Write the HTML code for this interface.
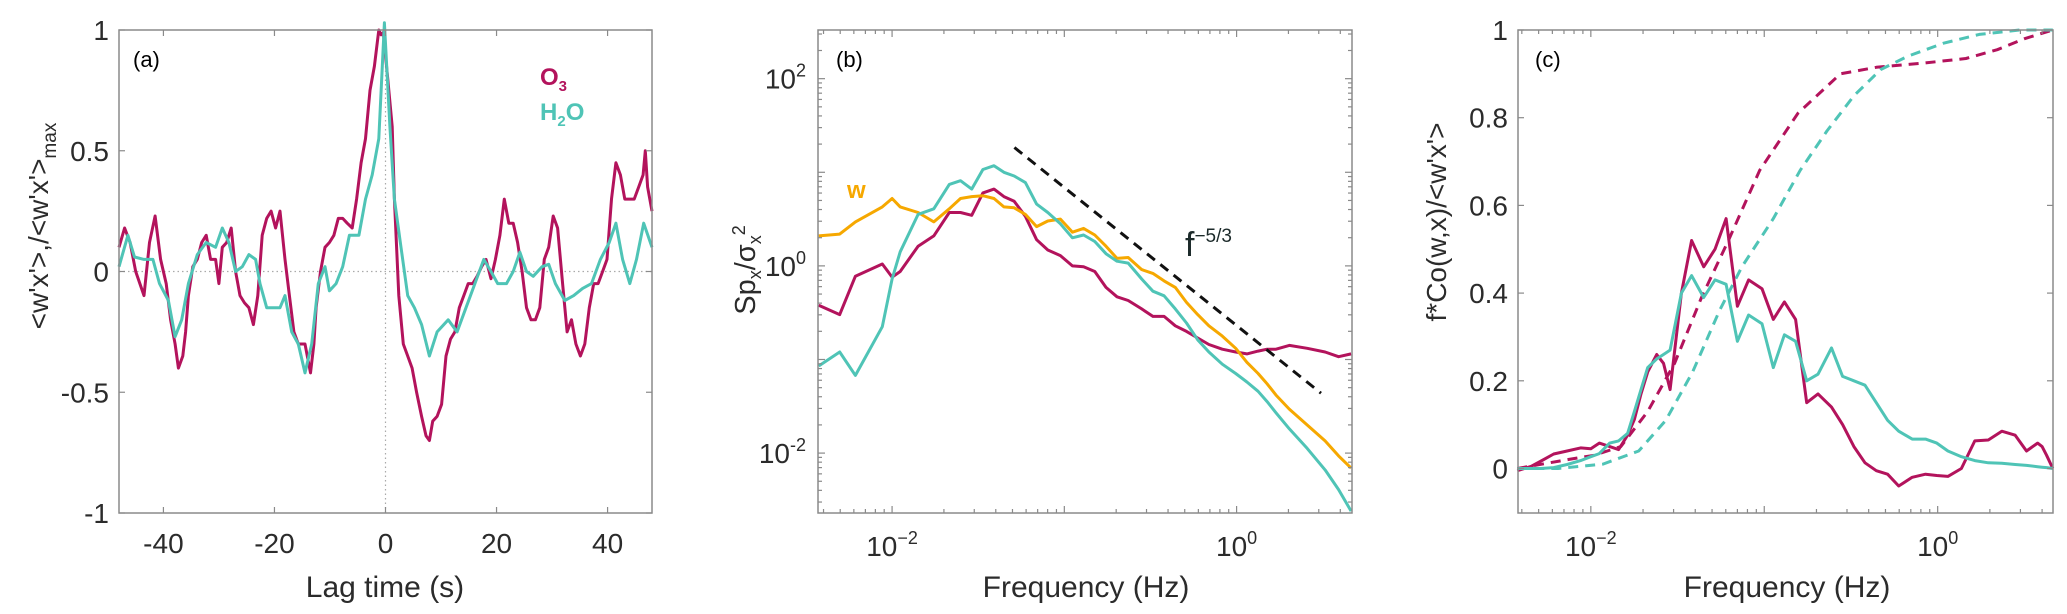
<!DOCTYPE html>
<html><head><meta charset="utf-8"><style>
html,body{margin:0;padding:0;background:#fff;}
svg{display:block;font-family:"Liberation Sans",sans-serif;}
</style></head><body>
<svg id="fig" width="2067" height="614" viewBox="0 0 2067 614" xmlns="http://www.w3.org/2000/svg"></svg>
<script>
// ---- Panel (a) data ----
const lagO3=[-48,-47,-46,-45,-43.5,-42.5,-41.5,-40.5,-39.5,-38.7,-37.9,-37.3,-36.5,-36,-35.5,-34.7,-33.9,-33.1,-32.3,-31.5,-30.6,-30,-29.4,-28.6,-27.8,-27,-26.2,-25.4,-24.6,-23.8,-23,-22.2,-21.4,-20.6,-19.8,-19,-18.1,-17.3,-16.5,-15.7,-14.5,-13.5,-12.9,-12.5,-11.7,-10.9,-10.1,-9.3,-8.5,-7.7,-6.9,-6,-5.2,-4.4,-3.6,-2.8,-2,-1.2,-0.8,-0.4,0.4,1.2,1.6,2.4,3.2,4,4.8,5.6,6.5,7.3,7.9,8.5,9.3,10.1,10.9,11.7,12.5,13.3,14.1,14.9,15.7,16.5,17.3,18.1,19,19.8,20.6,21.4,22.2,23,23.8,24.6,25.4,26.2,27,27.8,28.6,29.4,30.2,31,31.9,32.7,33.5,34.3,35.1,35.9,36.7,37.5,38.3,39.1,39.9,40.7,41.5,42.3,43.1,44,44.8,45.6,46.4,46.8,47.2,48];
const o3Lag=[0.1,0.18,0.12,0,-0.1,0.12,0.23,0.05,-0.05,-0.2,-0.3,-0.4,-0.35,-0.25,-0.1,0.02,0.05,0.12,0.15,0.05,0.05,-0.05,0.1,0.12,0.18,0,-0.1,-0.13,-0.15,-0.22,-0.1,0.15,0.22,0.25,0.18,0.25,0.05,-0.1,-0.25,-0.3,-0.3,-0.42,-0.3,-0.15,0,0.1,0.12,0.15,0.22,0.22,0.2,0.18,0.3,0.45,0.55,0.75,0.85,1.0,0.98,0.99,0.8,0.6,0.3,-0.1,-0.3,-0.35,-0.4,-0.5,-0.6,-0.68,-0.7,-0.62,-0.6,-0.55,-0.35,-0.28,-0.25,-0.15,-0.1,-0.05,-0.05,-0.02,0.02,0.05,-0.03,0.05,0.15,0.3,0.2,0.2,0.12,0,-0.15,-0.2,-0.2,-0.15,0.05,0.1,0.23,0.18,-0.05,-0.25,-0.2,-0.3,-0.35,-0.3,-0.15,-0.05,-0.05,0,0.05,0.3,0.45,0.4,0.3,0.3,0.3,0.35,0.4,0.5,0.35,0.25];
const lagH2O=[-48,-46.4,-45.2,-43.5,-41.9,-40.7,-39.1,-37.9,-36.7,-35.5,-33.9,-32.3,-30.6,-29.4,-28.2,-27,-25.8,-24.6,-23.4,-22.6,-21.4,-20.2,-19,-18.1,-16.9,-15.7,-14.5,-13.3,-12.1,-10.9,-10.1,-8.9,-7.7,-6.5,-4.8,-3.6,-2.4,-1.2,-0.2,0.8,1.6,2.8,4,5.2,6.5,7.9,9.3,11.3,12.9,14.5,16.1,17.7,19,20.2,21.8,23,24.2,25.4,26.6,28.2,29.4,30.6,32.3,33.9,35.5,37.1,38.7,40.3,41.5,42.7,44,45.2,46.5,48];
const h2oLag=[0.02,0.15,0.06,0.05,0.05,-0.05,-0.12,-0.27,-0.2,-0.05,0.07,0.12,0.1,0.18,0.12,0,0.02,0.07,0.05,-0.05,-0.15,-0.15,-0.15,-0.1,-0.25,-0.3,-0.42,-0.3,-0.05,0.02,-0.08,-0.05,0.02,0.15,0.15,0.3,0.4,0.55,1.03,0.6,0.3,0.1,-0.1,-0.15,-0.22,-0.35,-0.25,-0.2,-0.25,-0.15,-0.05,0.05,0,-0.05,-0.05,0,0.08,0,-0.02,0.02,0.03,-0.05,-0.12,-0.1,-0.07,-0.05,0.05,0.12,0.2,0.05,-0.05,0.05,0.2,0.1];
const aXTicks=[-40,-20,0,20,40];
const aYTicks=[-1,-0.5,0,0.5,1];
const aYTickLabels=["-1","-0.5","0","0.5","1"];
// ---- Panel (b) data (log10 f, log10 S) ----
const bLogF=[-2.426,-2.304,-2.213,-2.057,-2,-1.953,-1.849,-1.758,-1.668,-1.603,-1.538,-1.473,-1.408,-1.351,-1.291,-1.226,-1.161,-1.096,-1.023,-0.953,-0.888,-0.823,-0.758,-0.694,-0.629,-0.551,-0.486,-0.421,-0.356,-0.291,-0.226,-0.161,-0.083,-0.005,0.06,0.125,0.177,0.229,0.306,0.41,0.514,0.592,0.665];
const bW=[0.32,0.34,0.47,0.63,0.72,0.63,0.57,0.47,0.61,0.72,0.74,0.75,0.72,0.63,0.62,0.55,0.42,0.48,0.5,0.36,0.4,0.33,0.21,0.08,0.09,-0.04,-0.08,-0.16,-0.23,-0.39,-0.52,-0.64,-0.75,-0.88,-1.03,-1.15,-1.26,-1.38,-1.53,-1.7,-1.87,-2.03,-2.16];
const bO3=[-0.42,-0.52,-0.11,0.02,-0.12,-0.06,0.21,0.32,0.57,0.57,0.54,0.78,0.82,0.74,0.69,0.53,0.28,0.17,0.11,0,-0.01,-0.06,-0.23,-0.33,-0.37,-0.46,-0.54,-0.54,-0.64,-0.7,-0.77,-0.84,-0.89,-0.92,-0.94,-0.91,-0.89,-0.89,-0.85,-0.88,-0.92,-0.97,-0.94];
const bH2O=[-1.07,-0.92,-1.17,-0.65,-0.14,0.15,0.55,0.61,0.87,0.91,0.82,1.03,1.07,1.0,0.96,0.89,0.66,0.57,0.45,0.3,0.33,0.26,0.13,0.05,0.03,-0.14,-0.27,-0.32,-0.46,-0.61,-0.79,-0.92,-1.05,-1.15,-1.24,-1.34,-1.45,-1.57,-1.74,-1.95,-2.18,-2.39,-2.62];
const slopeLogF=[-1.29,0.49];
const slopeLogS=[1.265,-1.36];
const bXTicks=[-2,0];
const bYTicks=[-2,0,2];
// ---- Panel (c) data ----
const cLogF=[-2.424,-2.344,-2.292,-2.214,-2.137,-2.059,-2,-1.951,-1.891,-1.84,-1.788,-1.749,-1.711,-1.672,-1.62,-1.581,-1.543,-1.478,-1.419,-1.349,-1.284,-1.22,-1.155,-1.09,-1.013,-0.948,-0.884,-0.819,-0.755,-0.69,-0.612,-0.548,-0.483,-0.419,-0.354,-0.289,-0.225,-0.147,-0.07,-0.005,0.059,0.137,0.214,0.292,0.37,0.447,0.512,0.576,0.602,0.628,0.664];
const cO3=[-0.005,0.005,0.016,0.033,0.04,0.047,0.045,0.058,0.05,0.043,0.076,0.112,0.17,0.22,0.26,0.24,0.18,0.4,0.52,0.46,0.5,0.57,0.37,0.43,0.41,0.34,0.38,0.34,0.15,0.17,0.14,0.1,0.05,0.013,-0.005,-0.013,-0.04,-0.02,-0.013,-0.016,-0.018,0,0.063,0.065,0.085,0.076,0.04,0.058,0.05,0.03,0];
const cH2O=[0,0,0,0.002,0.009,0.018,0.027,0.034,0.058,0.063,0.08,0.13,0.18,0.23,0.25,0.26,0.27,0.4,0.44,0.39,0.43,0.42,0.29,0.35,0.33,0.23,0.305,0.29,0.2,0.215,0.275,0.21,0.2,0.19,0.15,0.11,0.085,0.067,0.067,0.058,0.04,0.027,0.018,0.013,0.012,0.009,0.007,0.004,0.003,0.002,0];
const cumO3LogF=[-2.424,-2.137,-1.982,-1.827,-1.672,-1.517,-1.362,-1.207,-1.026,-0.806,-0.561,-0.354,-0.07,0.163,0.344,0.499,0.664];
const cumO3=[0,0.02,0.03,0.05,0.13,0.24,0.39,0.52,0.68,0.81,0.9,0.915,0.925,0.935,0.955,0.98,1.0];
const cumH2OLogF=[-2.424,-2.189,-1.93,-1.724,-1.568,-1.413,-1.258,-1.129,-0.948,-0.793,-0.638,-0.483,-0.328,-0.173,0.034,0.24,0.473,0.664];
const cumH2O=[0,0,0.01,0.04,0.11,0.22,0.36,0.46,0.57,0.68,0.77,0.85,0.91,0.94,0.97,0.99,1.0,1.0];
const cYTicks=[0,0.2,0.4,0.6,0.8,1];
const cYTickLabels=["0","0.2","0.4","0.6","0.8","1"];

const NS="http://www.w3.org/2000/svg";
const svg=document.getElementById('fig');
const MAG="#b3135c",TEAL="#4fc4b6",ORG="#f6a800",TXT="#2b2b2b",AX="#8a8a8a";
const TF=28;
function el(tag,attrs,parent){const e=document.createElementNS(NS,tag);for(const k in attrs)e.setAttribute(k,attrs[k]);(parent||svg).appendChild(e);return e;}
function lin(d0,d1,p0,p1){return v=>p0+(v-d0)/(d1-d0)*(p1-p0);}
function polyline(xs,ys,sx,sy,color,dash,g,name){
  const pts=xs.map((x,i)=>sx(x).toFixed(1)+","+sy(ys[i]).toFixed(1)).join(" ");
  const p=el('polyline',{points:pts,fill:'none',stroke:color,'stroke-width':3,'stroke-linejoin':'round'},g);
  if(dash)p.setAttribute('stroke-dasharray',dash);
  
  
  return p;
}
function txt(x,y,s,size,anchor,g,color,name){
  const t=el('text',{x:x,y:y,'font-size':size,'text-anchor':anchor||'middle',fill:color||TXT},g);
  t.textContent=s;
  
  
  return t;
}
function frame(L,T,R,B,g){
  const r=el('rect',{x:L,y:T,width:R-L,height:B-T,fill:'none',stroke:AX,'stroke-width':1.5},g);
  
  
}
function tickX(x,T,B,len,g){el('line',{x1:x,x2:x,y1:B,y2:B-len,stroke:AX,'stroke-width':1.2},g);el('line',{x1:x,x2:x,y1:T,y2:T+len,stroke:AX,'stroke-width':1.2},g);}
function tickY(y,L,R,len,g){el('line',{x1:L,x2:L+len,y1:y,y2:y,stroke:AX,'stroke-width':1.2},g);el('line',{x1:R,x2:R-len,y1:y,y2:y,stroke:AX,'stroke-width':1.2},g);}

// ===== Panel (a) =====
(function(){
  const L=119,R=652,T=30,B=513;
  const g=el('g',{});
  
  
  const sx=lin(-48,48,L,R), sy=lin(-1,1,B,T);
  el('line',{x1:L,x2:R,y1:sy(0),y2:sy(0),stroke:'#aaa','stroke-width':1.2,'stroke-dasharray':'1.5 3'},g);
  el('line',{x1:sx(0),x2:sx(0),y1:T,y2:B,stroke:'#aaa','stroke-width':1.2,'stroke-dasharray':'1.5 3'},g);
  polyline(lagO3,o3Lag,sx,sy,MAG,null,g,'o3-lag-line');
  polyline(lagH2O,h2oLag,sx,sy,TEAL,null,g,'h2o-lag-line');
  frame(L,T,R,B,g);
  aXTicks.forEach(v=>{tickX(sx(v),T,B,6,g);txt(sx(v),553,String(v),TF,'middle',g,TXT,'x-tick-label');});
  aYTicks.forEach((v,i)=>{tickY(sy(v),L,R,6,g);txt(L-10,sy(v)+10,aYTickLabels[i],TF,'end',g,TXT,'y-tick-label');});
  txt(385,597,'Lag time (s)',30,'middle',g,TXT,'x-axis-title');
  const yt=el('text',{x:0,y:0,'font-size':28,'text-anchor':'middle',fill:TXT,transform:'translate(48,226) rotate(-90)'},g);
  
  
  yt.innerHTML="&lt;w'x'&gt;,/&lt;w'x'&gt;<tspan font-size='19' dy='8'>max</tspan>";
  txt(133,67,'(a)',22,'start',g,'#000','panel-label-a');
  const l1=el('text',{x:540,y:85,'font-size':24,'font-weight':'bold',fill:MAG},g);
  l1.innerHTML="O<tspan font-size='15' dy='6'>3</tspan>";
  
  
  const l2=el('text',{x:540,y:120,'font-size':24,'font-weight':'bold',fill:TEAL},g);
  l2.innerHTML="H<tspan font-size='15' dy='6'>2</tspan><tspan dy='-6'>O</tspan>";
  
  
})();

function logTicks(sx,sy,L,R,T,B,xmin,xmax,ymin,ymax,g){
  for(let d=Math.floor(xmin);d<=Math.ceil(xmax);d++)for(let k=1;k<10;k++){const v=d+Math.log10(k);if(v<xmin||v>xmax)continue;tickX(sx(v),T,B,k===1?7:4,g);}
  if(sy)for(let d=Math.floor(ymin);d<=Math.ceil(ymax);d++)for(let k=1;k<10;k++){const v=d+Math.log10(k);if(v<ymin||v>ymax)continue;tickY(sy(v),L,R,k===1?7:4,g);}
}
function powLabel(x,y,exp,g,name){
  const t=el('text',{x:x,y:y,'font-size':TF,'text-anchor':'middle',fill:TXT},g);
  t.innerHTML="10<tspan font-size='18' dy='-12'>"+(exp<0?"\u2212"+(-exp):exp)+"</tspan>";
  
  
}

// ===== Panel (b) =====
(function(){
  const L=818,R=1352,T=30,B=513;
  const g=el('g',{});
  
  
  const xmin=-2.43,xmax=0.67,ymin=-2.64,ymax=2.52;
  const sx=lin(xmin,xmax,L,R), sy=lin(ymin,ymax,B,T);
  polyline(bLogF,bO3,sx,sy,MAG,null,g,'o3-spectrum-line');
  polyline(bLogF,bW,sx,sy,ORG,null,g,'w-spectrum-line');
  polyline(bLogF,bH2O,sx,sy,TEAL,null,g,'h2o-spectrum-line');
  polyline(slopeLogF,slopeLogS,sx,sy,'#111','10 7',g,'f-minus-5-3-reference-line');
  frame(L,T,R,B,g);
  logTicks(sx,sy,L,R,T,B,xmin,xmax,ymin,ymax,g);
  bXTicks.forEach(v=>powLabel(sx(v),556,v,g,'x-tick-label'));
  bYTicks.forEach(v=>{const t=el('text',{x:L-12,y:sy(v)+10,'font-size':TF,'text-anchor':'end',fill:TXT},g);t.innerHTML="10<tspan font-size='18' dy='-12'>"+(v<0?"-"+(-v):v)+"</tspan>";});
  txt(1086,597,'Frequency (Hz)',30,'middle',g,TXT,'x-axis-title');
  const yt=el('text',{x:0,y:0,'font-size':29,'text-anchor':'middle',fill:TXT,transform:'translate(755,270) rotate(-90)'},g);
  yt.innerHTML="Sp<tspan font-size='18' dy='6'>x</tspan><tspan dy='-6'>/\u03c3</tspan><tspan font-size='18' dy='6'>x</tspan><tspan font-size='18' dy='-16'>2</tspan>";
  
  
  txt(836,67,'(b)',22,'start',g,'#000','panel-label-b');
  const w=txt(847,198,'w',24,'start',g,ORG,'legend-w');w.setAttribute('font-weight','bold');
  const f=el('text',{x:1185,y:256,'font-size':34,fill:'#1c2a2a'},g);
  f.innerHTML="f<tspan font-size='19' dy='-14'>\u22125/3</tspan>";
  
  
})();

// ===== Panel (c) =====
(function(){
  const L=1518,R=2053,T=30,B=513;
  const g=el('g',{});
  
  
  const xmin=-2.42,xmax=0.665;
  const sx=lin(xmin,xmax,L,R), sy=lin(-0.1015,1,B,T);
  polyline(cumO3LogF,cumO3,sx,sy,MAG,'10 7',g,'o3-cumulative-line');
  polyline(cumH2OLogF,cumH2O,sx,sy,TEAL,'10 7',g,'h2o-cumulative-line');
  polyline(cLogF,cO3,sx,sy,MAG,null,g,'o3-cospectrum-line');
  polyline(cLogF,cH2O,sx,sy,TEAL,null,g,'h2o-cospectrum-line');
  frame(L,T,R,B,g);
  logTicks(sx,null,L,R,T,B,xmin,xmax,0,0,g);
  cYTicks.forEach((v,i)=>{tickY(sy(v),L,R,6,g);txt(L-10,sy(v)+10,cYTickLabels[i],TF,'end',g,TXT,'y-tick-label');});
  [-2,0].forEach(v=>powLabel(sx(v),556,v,g,'x-tick-label'));
  txt(1787,597,'Frequency (Hz)',30,'middle',g,TXT,'x-axis-title');
  const yt=el('text',{x:0,y:0,'font-size':28,'text-anchor':'middle',fill:TXT,transform:'translate(1446,222) rotate(-90)'},g);
  yt.textContent="f*Co(w,x)/<w'x'>";
  
  
  txt(1535,67,'(c)',22,'start',g,'#000','panel-label-c');
})();
</script>
</body></html>
